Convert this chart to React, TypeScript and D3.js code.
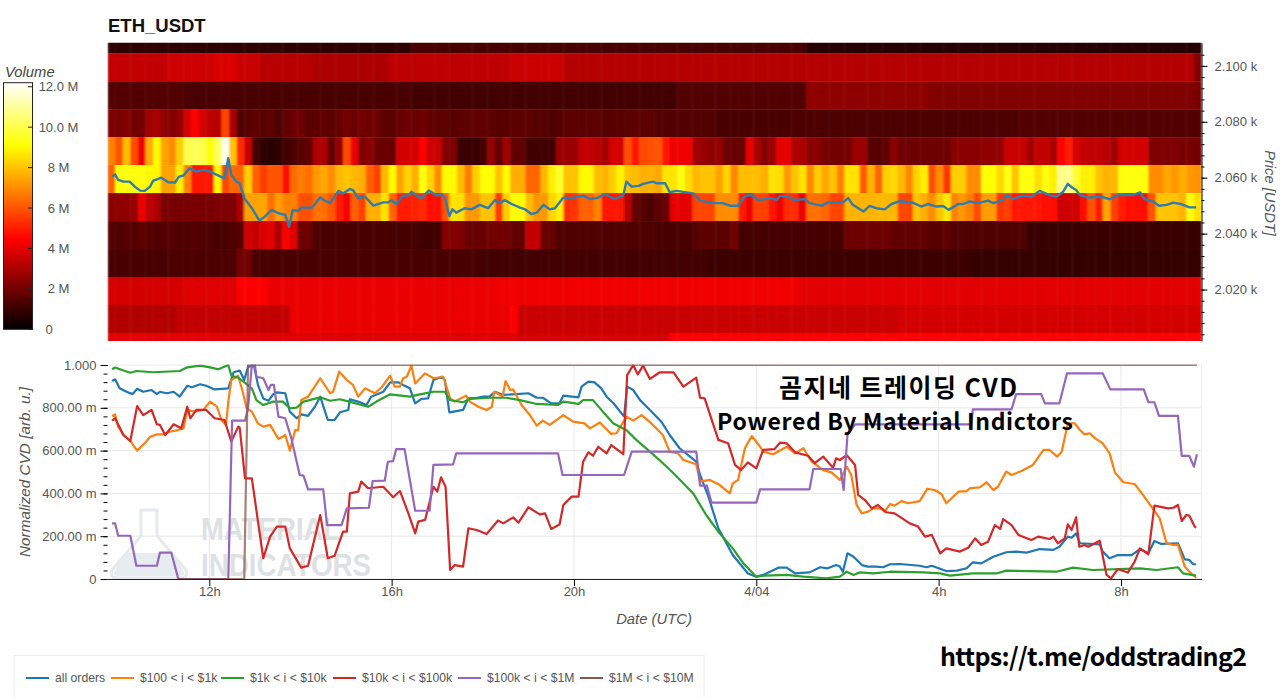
import * as React from "react";
import * as d3 from "d3";

type Run = [number, number];
type Pt = [number, number];

// minutes since the first candle
const startTime = Date.UTC(2023, 3, 3, 9, 46);
const spanMinutes = 1440;
const columnMinutes = 10;

const priceTicks = [2020, 2040, 2060, 2080, 2100];
const priceMinorTicks = d3.range(2004, 2108, 4);
const volumeTicks = [0, 2, 4, 6, 8, 10, 12];
const volumeLabels = ["0", "2 M", "4 M", "6 M", "8 M", "10.0 M", "12.0 M"];
const cvdTicks = [0, 0.2, 0.4, 0.6, 0.8, 1];
const cvdLabels = ["0", "200.00 m", "400.00 m", "600.00 m", "800.00 m", "1.000"];
const cvdMinorTicks = d3.range(0, 1.001, 0.04);

const hotStops = [0, 4.45, 9.1, 12.2];
const hotColors = ["#000000", "#ff0000", "#ffff00", "#ffffff"];

// heatmap rows, volume in millions. flat ones as [columns, volume]
const row2109: Run[] = [[40, 0.8], [52, 1.3], [52, 0.7]];
const row2099: Run[] = [[8, 3.4], [6, 3.6], [3, 3.8], [3, 3.5], [7, 3.2], [10, 3.0], [16, 3.3], [7, 3.5], [83, 3.15], [1, 2.2]];
const row2089: Run[] = [[10, 1.45], [30, 1.25], [35, 1.15], [17, 1.45], [16, 2.5], [35, 2.25], [1, 2.1]];
const row2029: Run[] = [[8, 1.3], [9, 1.35], [2, 2.0], [30, 1.3], [30, 1.15], [35, 1.05], [30, 0.9]];
const row2019: Run[] = [[10, 3.7], [7, 3.9], [4, 4.4], [30, 4.1], [40, 4.2], [53, 3.95]];
const row2009: Run[] = [[9, 3.1], [15, 3.4], [29, 4.1], [1, 4.4], [50, 3.5], [40, 3.7]];
const row1999: Run[] = [[15, 4.0], [39, 3.9], [20, 3.7], [70, 4.45]];

const row2079 = [
  2.2, 2.1, 2.3, 2.0, 2.0, 2.8, 2.9, 2.5, 2.3, 2.5, 3.7, 4.45, 3.7, 3.3, 3.2, 5.7, 3.0, 1.4, 1.5, 1.6, 1.5, 1.6, 1.4, 1.7, 1.9, 1.9, 1.6, 1.6, 1.7, 1.6, 1.8, 2.0, 1.8, 2.0, 1.9, 1.9,
  1.6, 1.6, 1.8, 1.9, 1.8, 1.9, 1.7, 1.6, 1.6, 1.5, 1.6, 1.7, 1.7, 1.7, 1.6, 1.5, 1.5, 1.6, 1.6, 1.6, 1.5, 1.5, 1.4, 1.5, 1.6, 1.6, 1.6, 1.6, 1.6, 1.5, 1.5, 1.5, 1.6, 1.6, 1.6, 1.6,
  1.45, 1.45, 1.45, 1.45, 1.45, 1.45, 1.45, 1.45, 1.3, 1.3, 1.3, 1.3, 1.3, 1.3, 1.3, 1.3, 1.3, 1.3, 1.35, 1.35, 1.35, 1.35, 1.35, 1.35, 1.35, 1.35, 1.35, 1.35, 1.35, 1.35, 1.35, 1.35, 1.35, 1.35, 1.35, 1.35,
  1.35, 1.35, 1.35, 1.35, 1.35, 1.35, 1.35, 1.35, 1.35, 1.35, 1.35, 1.35, 1.45, 1.45, 1.45, 1.45, 1.45, 1.45, 1.45, 1.45, 1.45, 1.45, 1.45, 1.45, 1.45, 1.45, 1.45, 1.45, 1.45, 1.45, 1.45, 1.45, 1.45, 1.45, 1.45, 1.45,
];
const row2069 = [
  6.8, 6.0, 7.9, 5.8, 4.2, 7.6, 9.0, 7.4, 7.0, 8.2, 10, 10.2, 10, 9.1, 10.2, 12, 8, 5.2, 3.5, 1.2, 0.8, 0.7, 0.8, 1.1, 1.3, 1.5, 1.7, 3.0, 3.0, 1.7, 2.6, 5.8, 4.1, 2.2, 2.4, 1.9,
  1.8, 1.8, 3.7, 3.7, 3.7, 4.45, 3.6, 3.5, 2.2, 2.2, 1.0, 1.0, 1.0, 1.3, 2.6, 1.7, 2.8, 1.7, 1.7, 1.1, 1.1, 1.1, 1.1, 2.7, 2.7, 2.7, 3.4, 3.4, 3.2, 2.9, 3.7, 3.7, 5.9, 4.9, 5.8, 5.9,
  6.0, 4.9, 4.2, 4.2, 4.2, 2.8, 2.6, 2.5, 2.6, 1.9, 1.8, 1.8, 4.0, 3.0, 2.3, 2.7, 4.0, 4.0, 3.0, 3.0, 2.4, 2.4, 2.1, 2.0, 2.0, 2.1, 2.7, 2.7, 1.5, 1.5, 1.7, 2.4, 1.9, 1.9, 1.9, 1.9,
  1.9, 1.9, 1.9, 2.4, 2.4, 2.4, 2.4, 2.5, 2.5, 2.6, 3.5, 3.5, 3.5, 2.8, 3.4, 3.4, 2.9, 4.45, 5.0, 3.8, 3.4, 3.4, 3.4, 3.2, 2.8, 3.7, 3.7, 3.7, 3.7, 2.2, 2.2, 2.2, 2.2, 2.1, 2.1, 2.0,
];
const row2059 = [
  6.2, 9.3, 9.3, 9.3, 9.3, 9.0, 9.0, 7.4, 7.4, 8.8, 6.8, 4.8, 4.8, 4.8, 9.0, 5.7, 6.4, 6.3, 8.2, 6.2, 5.5, 6.0, 6.0, 4.7, 6.4, 6.7, 6.5, 7.2, 7.5, 7.0, 7.8, 8.0, 7.8, 7.6, 6.2, 5.6,
  7.8, 9, 7.4, 8.3, 7.6, 9.3, 8.3, 7.0, 9.0, 9.0, 7.9, 6.7, 8.2, 9.1, 9.1, 8.0, 9.0, 7.6, 7.6, 6.3, 6.3, 7.8, 8.8, 9.6, 8.0, 8.0, 9.0, 9.0, 7.9, 7.7, 8.2, 8.9, 8.0, 7.9, 7.6, 7.7,
  7.5, 8.6, 8.6, 9.2, 8.4, 7.8, 8.0, 8.0, 7.4, 8.3, 6.9, 7.9, 7.9, 7.9, 7.6, 8.6, 8.5, 7.2, 8.0, 8.6, 6.9, 8.2, 7.5, 8.0, 6.8, 8.6, 8.6, 6.1, 7.7, 6.3, 8.2, 8.4, 7.8, 6.9, 8.3, 8.8,
  5.9, 7.0, 5.4, 8.2, 8.2, 7.0, 7.0, 9.1, 9.1, 8.4, 9.4, 8.0, 9.3, 9.2, 8.5, 9.2, 8.8, 10.8, 10.8, 9.7, 8.8, 8.8, 8.0, 7.7, 7.8, 9.3, 9.3, 9.3, 9.3, 7.0, 7.0, 7.5, 7.2, 7.6, 7.2, 7.1,
];
const row2049 = [
  2.4, 2.5, 2.5, 2.6, 4.1, 3.3, 3.0, 2.1, 2.1, 2.1, 2.1, 2.1, 2.1, 2.1, 2.2, 2.2, 2.2, 3.0, 7.4, 7.4, 7.5, 6.5, 7.3, 6.8, 6.8, 5.9, 5.9, 6.5, 6.5, 6.0, 5.0, 4.3, 6.2, 5.6, 7.6, 7.6,
  8.6, 6.3, 5.0, 5.0, 5.1, 5.2, 4.7, 4.6, 6.0, 8.6, 8.5, 7.2, 7.2, 8.0, 8.0, 5.5, 8.2, 9.1, 9.1, 7.9, 7.2, 7.2, 8.3, 8.8, 5.3, 5.4, 6.2, 6.2, 6.8, 4.9, 4.8, 4.9, 3.2, 1.7, 1.5, 1.4,
  1.6, 1.8, 4.0, 4.0, 4.0, 5.7, 5.7, 5.7, 7.0, 7.0, 7.0, 5.0, 4.2, 5.6, 5.6, 4.9, 4.2, 5.2, 5.2, 4.1, 6.5, 6.5, 6.3, 5.7, 5.7, 7.7, 7.7, 7.7, 7.7, 7.8, 7.8, 7.8, 5.7, 5.7, 8.0, 7.6,
  7.0, 8.0, 8.7, 6.8, 7.2, 6.8, 5.8, 7.3, 7.3, 5.4, 5.6, 4.8, 4.8, 4.8, 4.8, 4.6, 4.6, 3.6, 3.6, 3.6, 4.7, 6.0, 5.0, 7.5, 5.6, 5.0, 4.6, 4.6, 4.6, 6.0, 8.0, 8.0, 8.0, 7.7, 9.2, 8.5,
];
const row2039 = [
  1.5, 1.4, 1.5, 1.5, 1.6, 1.5, 1.4, 1.5, 1.5, 1.4, 1.4, 1.5, 1.4, 1.4, 1.3, 1.3, 1.4, 1.5, 3.7, 3.4, 3.8, 4.0, 3.0, 4.4, 3.9, 1.9, 1.9, 1.4, 1.3, 1.3, 1.3, 1.3, 1.3, 1.3, 1.3, 1.3,
  1.3, 1.2, 1.2, 1.2, 1.2, 1.1, 1.1, 1.1, 2.3, 2.3, 2.2, 1.8, 1.8, 1.8, 2.0, 2.0, 2.0, 1.7, 1.7, 3.4, 3.4, 1.8, 1.8, 1.4, 1.4, 1.4, 1.4, 1.4, 1.4, 1.4, 1.4, 1.4, 1.4, 1.4, 1.4, 1.4,
  1.3, 1.3, 1.3, 1.3, 1.3, 1.5, 1.6, 1.6, 1.6, 1.6, 2.0, 1.2, 1.2, 1.2, 1.2, 1.2, 1.2, 1.2, 1.2, 1.2, 1.2, 1.2, 1.2, 1.2, 1.2, 1.9, 1.9, 1.9, 1.9, 1.9, 1.9, 1.7, 1.7, 1.7, 1.7, 1.7,
  1.5, 1.5, 1.7, 1.4, 1.4, 1.4, 1.4, 1.4, 1.4, 1.4, 1.4, 1.4, 1.4, 1.0, 1.0, 1.0, 1.0, 1.0, 1.0, 1.0, 1.0, 1.0, 1.0, 1.0, 1.0, 1.0, 1.0, 1.0, 1.0, 1.0, 1.0, 1.0, 1.0, 1.0, 1.0, 1.0,
];

function expand(runs: Run[]) {
  const out: number[] = [];
  runs.forEach(([n, v]) => {
    for (let i = 0; i < n; i++) out.push(v);
  });
  return out;
}

const heatRows: { price: number; values: number[] }[] = [
  { price: 2109.5, values: expand(row2109) },
  { price: 2099.5, values: expand(row2099) },
  { price: 2089.5, values: expand(row2089) },
  { price: 2079.5, values: row2079 },
  { price: 2069.5, values: row2069 },
  { price: 2059.5, values: row2059 },
  { price: 2049.5, values: row2049 },
  { price: 2039.5, values: row2039 },
  { price: 2029.5, values: expand(row2029) },
  { price: 2019.5, values: expand(row2019) },
  { price: 2009.5, values: expand(row2009) },
  { price: 1999.5, values: expand(row1999) },
];

const priceLine: Pt[] = [
  [6, 2060.4], [10, 2061.2], [14, 2059.2], [21, 2058.6], [29, 2058.6], [36, 2056.8], [43, 2055.4], [49, 2055.3], [56, 2056.8], [60, 2058.9], [71, 2060], [80, 2058.4], [89, 2058.3], [94, 2060.4], [100, 2060.8], [108, 2063.4], [117, 2062.2], [126, 2062.8], [135, 2062.2], [144, 2061], [154, 2059.8], [159, 2067], [163, 2061], [170, 2058.6], [174, 2058], [180, 2052.7], [190, 2049.1], [200, 2044.7], [207, 2046.1], [216, 2048.5], [225, 2047.3], [234, 2046.7], [239, 2042.5], [244, 2048.5], [251, 2048.1], [255, 2049.3], [269, 2049.3], [280, 2052.9], [286, 2051.8], [293, 2050.9], [304, 2055.3], [310, 2054.4], [319, 2056], [323, 2055.6], [330, 2052.7], [339, 2053.2], [350, 2050], [363, 2051.2], [370, 2051.2], [374, 2052], [380, 2050.6], [389, 2053.6], [396, 2053.6], [400, 2055], [407, 2053.6], [413, 2052.7], [423, 2055.4], [433, 2053.6], [440, 2054.1], [444, 2052.7], [450, 2046.3], [454, 2048.7], [459, 2047.5], [470, 2049.1], [479, 2048.7], [490, 2050.3], [501, 2049.1], [510, 2052],
  [516, 2050.9], [523, 2052], [532, 2050.6], [543, 2049.3], [549, 2048.8], [558, 2047], [565, 2047.5], [574, 2050.3], [582, 2048.7], [589, 2049.1], [600, 2052.9], [611, 2052.7], [626, 2053.6], [635, 2052.4], [644, 2052.7], [655, 2054.1], [668, 2052.4], [679, 2053.8], [683, 2058.6], [690, 2056.8], [699, 2057.1], [705, 2057.8], [718, 2058.6], [723, 2058], [734, 2058], [740, 2054.8], [749, 2055.3], [771, 2054.4], [780, 2051.8], [797, 2050.9], [810, 2050.9], [819, 2050], [830, 2050], [839, 2053.5], [848, 2053.8], [856, 2052], [874, 2052.7], [881, 2052], [885, 2053.5], [896, 2053.2], [905, 2052], [918, 2052.4], [924, 2050.9], [940, 2050], [949, 2051.2], [968, 2051.2], [975, 2052.7], [981, 2050.3], [995, 2047.9], [1003, 2049.9], [1012, 2049.1], [1023, 2048.7], [1032, 2050.6], [1043, 2051.6],
  [1060, 2051.1], [1071, 2049.7], [1080, 2050.6], [1091, 2049.7], [1100, 2049.9], [1107, 2048.5], [1120, 2050.6], [1126, 2050.6], [1135, 2051.5], [1146, 2050.9], [1159, 2051.8], [1166, 2050.9], [1179, 2052], [1184, 2053.8], [1192, 2052.4], [1205, 2053.6], [1216, 2053.2], [1227, 2055.3], [1240, 2053.8], [1249, 2053.2], [1258, 2055], [1264, 2057.8], [1269, 2056.6], [1275, 2055.6], [1280, 2053.8], [1291, 2052.9], [1308, 2053.2], [1319, 2052.3], [1330, 2053.8], [1350, 2053.8], [1359, 2054.8], [1365, 2052.4], [1376, 2051.5], [1384, 2050], [1394, 2050.3], [1403, 2051.1], [1414, 2050.5], [1424, 2049.4], [1433, 2049.4],
];

const allOrders: Pt[] = [
  [6, 0.925], [10, 0.933], [16, 0.891], [25, 0.875], [33, 0.864], [39, 0.889], [47, 0.875], [58, 0.883], [65, 0.864], [69, 0.875], [78, 0.868], [87, 0.875], [95, 0.852], [105, 0.903], [111, 0.896], [122, 0.91], [130, 0.903], [141, 0.886], [159, 0.891], [166, 0.966], [174, 0.974], [180, 0.93], [185, 0.992], [193, 0.995], [198, 0.907], [205, 0.844], [212, 0.833], [218, 0.863], [223, 0.872], [234, 0.868], [240, 0.782], [249, 0.751], [255, 0.769], [264, 0.762], [273, 0.805], [280, 0.852], [290, 0.743], [299, 0.743], [306, 0.779], [317, 0.79], [319, 0.84], [330, 0.829], [341, 0.813], [347, 0.852], [363, 0.875], [372, 0.919], [383, 0.919], [389, 0.907], [398, 0.891], [405, 0.821], [413, 0.841], [422, 0.844], [429, 0.93], [440, 0.945], [444, 0.93], [450, 0.779], [468, 0.79], [475, 0.844],
  [486, 0.847], [495, 0.852], [503, 0.852], [510, 0.875], [521, 0.86], [538, 0.864], [554, 0.868], [565, 0.847], [573, 0.847], [584, 0.821], [595, 0.821], [600, 0.857], [620, 0.849], [624, 0.899], [633, 0.922], [641, 0.919], [650, 0.891], [657, 0.852], [666, 0.821], [680, 0.759], [684, 0.899], [692, 0.883], [701, 0.836], [714, 0.79], [729, 0.735], [740, 0.673], [753, 0.611], [775, 0.548], [780, 0.486], [791, 0.385], [804, 0.237], [823, 0.112], [843, 0.026], [854, 0.011], [863, 0.019], [872, 0.034], [883, 0.053], [894, 0.053], [905, 0.026], [924, 0.031], [938, 0.055], [948, 0.05], [959, 0.065],
  [964, 0.058], [968, 0.034], [974, 0.12], [982, 0.104], [993, 0.065], [1001, 0.058], [1012, 0.058], [1021, 0.055], [1030, 0.069], [1043, 0.07], [1069, 0.062], [1078, 0.055], [1085, 0.062], [1104, 0.037], [1118, 0.039], [1131, 0.05], [1139, 0.078], [1150, 0.073], [1166, 0.104], [1183, 0.125], [1196, 0.128], [1210, 0.123], [1227, 0.14], [1245, 0.136], [1253, 0.151], [1264, 0.198], [1269, 0.193], [1275, 0.213], [1280, 0.167], [1306, 0.162], [1310, 0.128], [1319, 0.097], [1330, 0.112], [1348, 0.112], [1359, 0.14], [1370, 0.12], [1378, 0.178], [1387, 0.164], [1409, 0.167], [1418, 0.092], [1424, 0.089], [1429, 0.069], [1433, 0.069],
];

const orders100to1k: Pt[] = [
  [6, 0.762], [10, 0.769], [14, 0.712], [21, 0.673], [30, 0.645], [39, 0.6], [49, 0.634], [56, 0.665], [65, 0.676], [73, 0.676], [82, 0.688], [93, 0.696], [100, 0.704], [105, 0.79], [115, 0.782], [126, 0.79], [135, 0.829], [144, 0.805], [150, 0.743], [156, 0.72], [159, 0.829], [163, 0.93], [172, 0.95], [178, 0.875], [183, 0.798], [190, 0.782], [198, 0.727], [205, 0.712], [214, 0.72], [225, 0.654], [234, 0.673], [240, 0.6], [247, 0.696], [251, 0.696], [255, 0.836], [264, 0.852], [280, 0.938], [293, 0.868], [297, 0.875], [305, 0.969], [315, 0.93], [323, 0.907], [330, 0.852], [339, 0.891], [352, 0.868], [361, 0.896], [372, 0.95], [378, 0.899], [385, 0.899], [389, 0.938], [394, 0.945], [400, 0.997], [405, 0.914], [418, 0.961], [429, 0.938], [442, 0.945], [451, 0.844], [457, 0.829], [472, 0.857],
  [477, 0.829], [488, 0.805], [499, 0.79], [506, 0.805], [509, 0.875], [520, 0.852], [524, 0.925], [530, 0.883], [534, 0.886], [545, 0.813], [556, 0.766], [565, 0.717], [573, 0.74], [582, 0.72], [600, 0.766], [613, 0.735], [628, 0.727], [635, 0.704], [648, 0.731], [663, 0.678], [670, 0.681], [683, 0.759], [692, 0.74], [703, 0.766], [716, 0.727], [731, 0.673], [740, 0.595], [751, 0.587], [758, 0.556], [775, 0.536], [780, 0.455], [793, 0.463], [806, 0.439], [819, 0.4], [823, 0.447], [830, 0.463], [839, 0.611], [848, 0.668], [859, 0.618], [863, 0.595], [876, 0.583], [894, 0.618], [905, 0.587], [916, 0.611], [927, 0.548], [942, 0.509], [953, 0.498],
  [964, 0.463], [973, 0.525], [979, 0.486], [986, 0.346], [993, 0.307], [1001, 0.315], [1008, 0.33], [1017, 0.33], [1023, 0.315], [1030, 0.35], [1036, 0.343], [1045, 0.364], [1054, 0.354], [1069, 0.364], [1079, 0.421], [1089, 0.416], [1098, 0.396], [1104, 0.354], [1120, 0.408], [1131, 0.411], [1135, 0.424], [1148, 0.428], [1157, 0.452], [1166, 0.416], [1172, 0.431], [1183, 0.502], [1190, 0.486], [1203, 0.505], [1218, 0.533], [1232, 0.603], [1240, 0.603], [1250, 0.572], [1256, 0.595], [1264, 0.727], [1273, 0.727], [1280, 0.696], [1286, 0.676], [1293, 0.681], [1300, 0.657], [1310, 0.634], [1319, 0.587], [1326, 0.498], [1337, 0.452], [1352, 0.444], [1363, 0.393], [1374, 0.338], [1385, 0.283], [1394, 0.167], [1403, 0.159], [1409, 0.159], [1418, 0.058], [1424, 0.034], [1433, 0.006],
];

const orders1kto10k: Pt[] = [
  [6, 0.98], [10, 0.988], [21, 0.974], [30, 0.964], [38, 0.972], [60, 0.966], [95, 0.972], [105, 0.989], [122, 0.997], [135, 0.989], [146, 0.98], [159, 1.0], [163, 0.95], [172, 0.941], [179, 0.922], [190, 0.891], [196, 0.836], [205, 0.813], [218, 0.829], [231, 0.829], [240, 0.798], [249, 0.801], [258, 0.829], [280, 0.849], [293, 0.833], [306, 0.84], [323, 0.824], [343, 0.805], [354, 0.829], [372, 0.863], [398, 0.852], [411, 0.863], [429, 0.875], [444, 0.875], [451, 0.836], [468, 0.826],
  [477, 0.841], [503, 0.847], [525, 0.847], [543, 0.836], [565, 0.818], [593, 0.813], [600, 0.829], [620, 0.818], [626, 0.836], [639, 0.836], [652, 0.782], [666, 0.727], [683, 0.696], [696, 0.65], [714, 0.595], [729, 0.548], [745, 0.494], [771, 0.4], [788, 0.299], [804, 0.221], [823, 0.143], [837, 0.073], [854, 0.011], [865, 0.016], [894, 0.019], [916, 0.011], [946, 0.003], [964, 0.011],
  [973, 0.034], [982, 0.019], [990, 0.031], [1008, 0.026], [1030, 0.034], [1074, 0.031], [1096, 0.026], [1109, 0.016], [1139, 0.026], [1170, 0.026], [1183, 0.039], [1249, 0.034], [1271, 0.053], [1297, 0.042], [1359, 0.05], [1381, 0.042], [1409, 0.055], [1416, 0.026], [1433, 0.016],
];

const orders10kto100k: Pt[] = [
  [6, 0.74], [10, 0.751], [21, 0.673], [30, 0.645], [39, 0.808], [47, 0.766], [58, 0.79], [65, 0.723], [69, 0.72], [76, 0.673], [87, 0.723], [97, 0.704], [105, 0.805], [109, 0.751], [117, 0.79], [130, 0.79], [141, 0.751], [154, 0.743], [163, 0.642], [172, 0.712], [174, 0.707], [181, 0.47], [190, 0.47], [205, 0.097], [214, 0.198], [223, 0.245], [234, 0.245], [240, 0.143], [255, 0.053], [264, 0.062], [280, 0.299], [290, 0.097], [299, 0.109], [310, 0.221], [315, 0.221], [319, 0.4], [330, 0.408], [334, 0.455], [343, 0.424], [363, 0.431], [376, 0.382], [385, 0.411], [396, 0.307], [405, 0.213], [409, 0.268], [418, 0.276], [429, 0.431], [434, 0.408], [439, 0.475], [445, 0.431], [451, 0.042], [457, 0.065], [468, 0.058], [475, 0.237],
  [486, 0.229], [499, 0.21], [514, 0.273], [521, 0.26], [534, 0.288], [541, 0.263], [554, 0.335], [569, 0.302], [576, 0.307], [584, 0.234], [595, 0.255], [600, 0.346], [611, 0.385], [620, 0.385], [626, 0.548], [633, 0.592], [639, 0.576], [646, 0.618], [657, 0.587], [663, 0.626], [679, 0.584], [684, 0.953], [692, 1.0], [698, 0.956], [705, 0.997], [714, 0.935], [727, 0.966], [745, 0.966], [758, 0.899], [775, 0.941], [780, 0.847], [786, 0.844], [804, 0.65], [817, 0.634], [826, 0.533], [834, 0.509], [843, 0.545], [854, 0.517], [863, 0.603], [878, 0.607], [885, 0.637], [894, 0.634], [905, 0.592], [922, 0.576], [931, 0.541], [942, 0.572], [955, 0.52], [959, 0.564],
  [964, 0.556], [973, 0.579], [984, 0.533], [988, 0.393], [997, 0.369], [1006, 0.33], [1014, 0.346], [1025, 0.312], [1036, 0.307], [1056, 0.26], [1067, 0.245], [1076, 0.198], [1085, 0.206], [1096, 0.12], [1104, 0.143], [1122, 0.128], [1133, 0.146], [1142, 0.19], [1150, 0.159], [1159, 0.174], [1168, 0.252], [1175, 0.234], [1179, 0.28], [1190, 0.252], [1199, 0.206], [1216, 0.182], [1225, 0.198], [1240, 0.187], [1245, 0.198], [1251, 0.167], [1260, 0.19], [1264, 0.255], [1269, 0.229], [1275, 0.288], [1279, 0.151], [1286, 0.159], [1291, 0.151], [1306, 0.179], [1315, 0.019], [1321, 0.003], [1330, 0.047], [1343, 0.03], [1352, 0.081], [1359, 0.143], [1370, 0.115], [1378, 0.343], [1396, 0.33], [1403, 0.333], [1409, 0.346], [1414, 0.271], [1420, 0.299], [1424, 0.296], [1431, 0.245], [1433, 0.24],
];

const orders100kto1M: Pt[] = [
  [6, 0.26], [10, 0.26], [14, 0.202], [30, 0.202], [38, 0.062], [65, 0.062], [69, 0.123], [84, 0.123], [93, 0.003], [95, 0], [159, 0], [164, 0.74], [181, 0.74], [185, 0.798], [190, 1], [194, 1], [196, 0.945], [205, 0.938], [212, 0.883], [215, 0.907], [219, 0.907], [225, 0.759], [234, 0.751], [242, 0.657], [253, 0.486], [258, 0.483], [264, 0.419], [284, 0.419], [289, 0.252], [308, 0.252], [315, 0.33], [344, 0.333], [349, 0.458], [365, 0.46], [369, 0.548], [376, 0.551], [380, 0.607], [391, 0.607], [405, 0.319], [424, 0.319], [429, 0.533], [455, 0.536], [459, 0.587],
  [593, 0.587], [599, 0.486], [680, 0.486], [690, 0.595], [775, 0.595], [780, 0.436], [789, 0.436], [795, 0.357], [854, 0.357], [859, 0.419], [924, 0.419], [929, 0.514], [965, 0.514],
  [969, 0.416], [974, 0.673], [984, 0.723], [1137, 0.723], [1139, 0.793], [1190, 0.793], [1196, 0.864], [1229, 0.864], [1234, 0.821], [1253, 0.821], [1263, 0.961], [1310, 0.961], [1320, 0.886], [1364, 0.886], [1370, 0.826], [1378, 0.826], [1384, 0.762], [1409, 0.762], [1414, 0.575], [1424, 0.575], [1430, 0.525], [1434, 0.583],
];

const orders1Mto10M: Pt[] = [[93, 0], [180, 0], [185, 1], [1434, 1]];

const seriesLabels = ["all orders", "$100 < i < $1k", "$1k < i < $10k", "$10k < i < $100k", "$100k < i < $1M", "$1M < i < $10M"];
const seriesColors = ["#1f77b4", "#ff7f0e", "#2ca02c", "#d62728", "#9467bd", "#8c564b"];
const seriesData = [allOrders, orders100to1k, orders1kto10k, orders10kto100k, orders100kto1M, orders1Mto10M];
const legendStarts = [26, 111, 221, 333, 458, 580];

const SANS = "'Liberation Sans', Arial, sans-serif";
const AXIS_TEXT = "#555";

export default function App() {
  const ref = React.useRef<SVGSVGElement>(null);

  const draw = () => {
    const svg = d3.select(ref.current);
    svg.selectAll("*").remove();

    const toDate = (m: number) => new Date(startTime + m * 60000);

    const left = 107.5;
    const right = 1201.5;
    const x = d3.scaleUtc().domain([toDate(0), toDate(spanMinutes)]).range([left, right]);
    const priceY = d3.scaleLinear().domain([2108.3, 2001.6]).range([42.7, 341]);
    const cvdY = d3.scaleLinear().domain([0, 1]).range([579, 365]);
    const barY = d3.scaleLinear().domain([0, 12.2]).range([329.3, 82.7]);
    const hot = d3.scaleLinear<string>().domain(hotStops).range(hotColors);

    const defs = svg.append("defs");
    defs.append("clipPath").attr("id", "heatClip").append("rect")
      .attr("x", left).attr("y", priceY(2108.3)).attr("width", right - left).attr("height", priceY(2001.6) - priceY(2108.3));
    defs.append("clipPath").attr("id", "cvdClip").append("rect")
      .attr("x", left).attr("y", cvdY(1) - 0.5).attr("width", right - left).attr("height", cvdY(0) - cvdY(1) + 0.5);
    defs.append("filter").attr("id", "soft").attr("x", "-1%").attr("width", "102%")
      .append("feGaussianBlur").attr("stdDeviation", "1 0.3");

    const grad = defs.append("linearGradient").attr("id", "hotBar").attr("x1", 0).attr("x2", 0).attr("y1", 1).attr("y2", 0);
    hotStops.forEach((s, i) => {
      grad.append("stop").attr("offset", s / 12.2).attr("stop-color", hotColors[i]);
    });

    svg.append("text").text("ETH_USDT")
      .attr("x", 108).attr("y", 32)
      .attr("font-family", SANS).attr("font-weight", "bold").attr("font-size", 18.5).attr("fill", "#111");

    // heatmap
    const heat = svg.append("g").attr("clip-path", "url(#heatClip)");
    const cells = heat.append("g").attr("filter", "url(#soft)");
    heatRows.forEach((row) => {
      cells.append("g").selectAll("rect").data(row.values).enter().append("rect")
        .attr("x", (_, i) => x(toDate(i * columnMinutes)))
        .attr("y", priceY(row.price + 5))
        .attr("width", (_, i) => x(toDate((i + 1) * columnMinutes)) - x(toDate(i * columnMinutes)) + 0.4)
        .attr("height", priceY(row.price - 5) - priceY(row.price + 5) + 0.3)
        .attr("fill", (d) => hot(d));
    });

    const priceGen = d3.line<Pt>().x((d) => x(toDate(d[0]))).y((d) => priceY(d[1]));
    heat.append("path").attr("d", priceGen(priceLine)!)
      .attr("fill", "none").attr("stroke", "#2f7cae").attr("stroke-width", 2.4).attr("stroke-linejoin", "round");

    // price axis
    const priceAxis = svg.append("g").attr("transform", `translate(${right},0)`)
      .call(d3.axisRight(priceY).tickValues(priceTicks).tickSize(6).tickSizeOuter(0).tickPadding(7).tickFormat((d) => d3.format(".3f")(+d / 1000) + " k"));
    svg.append("g").attr("transform", `translate(${right},0)`)
      .call(d3.axisRight(priceY).tickValues(priceMinorTicks).tickSize(3).tickFormat(() => ""))
      .call((g) => g.select(".domain").remove());
    priceAxis.selectAll("text").attr("font-family", SANS).attr("font-size", 13).attr("fill", AXIS_TEXT);

    svg.append("text").text("Price [USDT]")
      .attr("transform", "translate(1265,193) rotate(90)")
      .attr("text-anchor", "middle").attr("font-family", SANS).attr("font-style", "italic").attr("font-size", 14.7).attr("fill", AXIS_TEXT);

    // colour bar
    svg.append("text").text("Volume")
      .attr("x", 5).attr("y", 77)
      .attr("font-family", SANS).attr("font-style", "italic").attr("font-size", 14.8).attr("fill", "#444");
    svg.append("rect")
      .attr("x", 3.5).attr("y", barY(12.2)).attr("width", 29).attr("height", barY(0) - barY(12.2))
      .attr("fill", "url(#hotBar)").attr("stroke", "#222").attr("stroke-width", 1);
    svg.append("g").selectAll("line").data(volumeTicks).enter().append("line")
      .attr("x1", 28).attr("x2", 33).attr("y1", (d) => barY(d)).attr("y2", (d) => barY(d))
      .attr("stroke", "#222");
    svg.append("g").selectAll("text").data(volumeTicks).enter().append("text")
      .text((_, i) => volumeLabels[i])
      .attr("x", (d) => (d === 0 ? 49 : 58.5)).attr("y", (d) => barY(d) + 4.5)
      .attr("text-anchor", "middle").attr("font-family", SANS).attr("font-size", 13).attr("fill", AXIS_TEXT);

    // lower panel grid
    const hourTicks = x.ticks(d3.utcHour.every(4)!);
    svg.append("g").selectAll("line").data(hourTicks).enter().append("line")
      .attr("x1", (d) => x(d)).attr("x2", (d) => x(d)).attr("y1", cvdY(1)).attr("y2", cvdY(0))
      .attr("stroke", "#e8e8e8");
    svg.append("g").selectAll("line").data(cvdTicks).enter().append("line")
      .attr("x1", left).attr("x2", right).attr("y1", (d) => cvdY(d)).attr("y2", (d) => cvdY(d))
      .attr("stroke", "#e8e8e8");
    svg.append("line").attr("x1", right).attr("x2", right).attr("y1", cvdY(1)).attr("y2", cvdY(0)).attr("stroke", "#eee");

    // watermark
    const mark = svg.append("g");
    mark.append("path")
      .attr("d", "M141 510 H157 V536 L186 570 Q189 578 180 578 H118 Q109 578 112 570 L141 536 Z")
      .attr("fill", "none").attr("stroke", "#e7eaec").attr("stroke-width", 3);
    mark.append("path")
      .attr("d", "M125 553 H173 L184 572 Q185 576 180 576 H118 Q113 576 114 572 Z")
      .attr("fill", "#e6ecef");
    mark.append("text").text("MATERIAL")
      .attr("x", 201).attr("y", 540).attr("textLength", 139).attr("lengthAdjust", "spacingAndGlyphs")
      .attr("font-family", SANS).attr("font-weight", "bold").attr("font-size", 31).attr("fill", "#dde1e4");
    mark.append("text").text("INDICATORS")
      .attr("x", 201).attr("y", 576).attr("textLength", 170).attr("lengthAdjust", "spacingAndGlyphs")
      .attr("font-family", SANS).attr("font-weight", "bold").attr("font-size", 31).attr("fill", "#dde1e4");

    // cvd lines
    const lineGen = d3.line<Pt>().x((d) => x(toDate(d[0]))).y((d) => cvdY(d[1]));
    const lines = svg.append("g").attr("clip-path", "url(#cvdClip)");
    seriesData.forEach((s, i) => {
      lines.append("path").attr("d", lineGen(s)!)
        .attr("fill", "none").attr("stroke", seriesColors[i]).attr("stroke-width", 2.2).attr("stroke-linejoin", "round")
        .attr("stroke-opacity", i === 5 ? 0.75 : 1);
    });

    // cvd axes
    const yAxis = svg.append("g").attr("transform", `translate(${left},0)`)
      .call(d3.axisLeft(cvdY).tickValues(cvdTicks).tickSize(7).tickPadding(4).tickFormat((_, i) => cvdLabels[i]))
      .call((g) => g.select(".domain").remove());
    svg.append("g").attr("transform", `translate(${left},0)`)
      .call(d3.axisLeft(cvdY).tickValues(cvdMinorTicks).tickSize(4).tickFormat(() => ""))
      .call((g) => g.select(".domain").remove());
    yAxis.selectAll("text").attr("font-family", SANS).attr("font-size", 13).attr("fill", AXIS_TEXT);

    const xAxis = svg.append("g").attr("transform", `translate(0,${cvdY(0)})`)
      .call(d3.axisBottom(x).tickValues(hourTicks).tickSize(7).tickSizeOuter(0).tickPadding(1)
        .tickFormat((d) => ((d as Date).getUTCHours() === 0 ? "4/04" : (d as Date).getUTCHours() + "h")));
    xAxis.select(".domain").attr("stroke", "#222");
    xAxis.selectAll("text").attr("font-family", SANS).attr("font-size", 13).attr("fill", AXIS_TEXT);

    svg.append("text").text("Date (UTC)")
      .attr("x", 654).attr("y", 624)
      .attr("text-anchor", "middle").attr("font-family", SANS).attr("font-style", "italic").attr("font-size", 14.8).attr("fill", AXIS_TEXT);
    svg.append("text").text("Normalized CVD [arb. u.]")
      .attr("transform", "translate(30,472) rotate(-90)")
      .attr("text-anchor", "middle").attr("font-family", SANS).attr("font-style", "italic").attr("font-size", 15.3).attr("fill", AXIS_TEXT);

    // overlaid captions
    const KR = "'Noto Sans CJK KR', sans-serif";
    svg.append("text").text("곰지네 트레이딩 CVD")
      .attr("x", 779).attr("y", 397).attr("textLength", 238)
      .attr("font-family", KR).attr("font-weight", 700).attr("font-size", 25).attr("fill", "#000");
    svg.append("text").text("Powered By Material Indictors")
      .attr("x", 895).attr("y", 430).attr("text-anchor", "middle").attr("textLength", 356)
      .attr("font-family", KR).attr("font-weight", 700).attr("font-size", 23).attr("fill", "#000");
    svg.append("text").text("https://t.me/oddstrading2")
      .attr("x", 940).attr("y", 666).attr("textLength", 307)
      .attr("font-family", KR).attr("font-weight", 700).attr("font-size", 25).attr("fill", "#000");

    // legend
    svg.append("rect").attr("x", 14).attr("y", 655.5).attr("width", 690).attr("height", 50)
      .attr("fill", "#fff").attr("stroke", "#eee");
    seriesLabels.forEach((label, i) => {
      const g = svg.append("g").attr("transform", `translate(${legendStarts[i]},678)`);
      g.append("line").attr("x1", 0).attr("x2", 23).attr("stroke", seriesColors[i]).attr("stroke-width", 2);
      g.append("text").text(label).attr("x", 29).attr("y", 4)
        .attr("font-family", SANS).attr("font-size", 12.2).attr("fill", AXIS_TEXT);
    });
  };

  React.useEffect(() => {
    draw();
  }, []);

  return <svg ref={ref} width={1280} height={698} style={{ position: "absolute", left: 0, top: 0 }} />;
}
